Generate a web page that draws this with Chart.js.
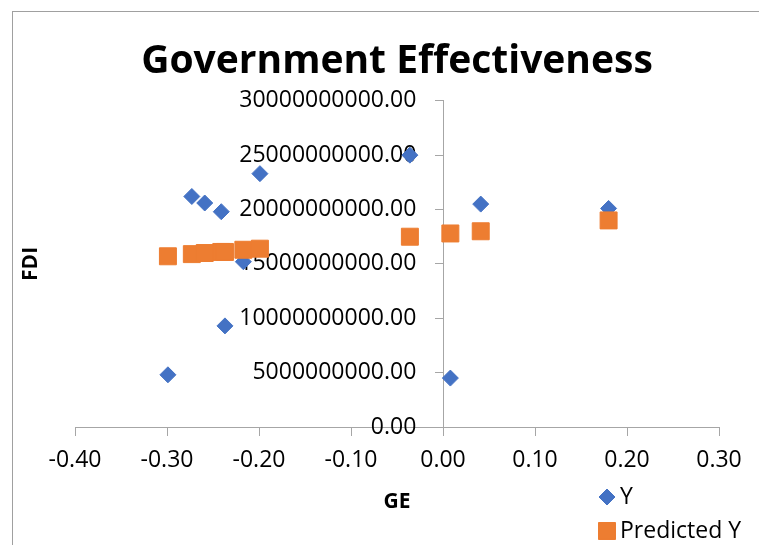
<!DOCTYPE html>
<html>
<head>
<meta charset="utf-8">
<title>Government Effectiveness</title>
<script src="https://cdn.jsdelivr.net/npm/chart.js@4.4.1/dist/chart.umd.min.js"></script>
<style>
  html, body { margin: 0; padding: 0; background: #fff; overflow: hidden; }
  .chart-wrap { position: relative; width: 759px; height: 545px; }
  .chart-frame {
    position: absolute; left: 12px; top: 11px; width: 800px; height: 600px;
    border: 1px solid #a0a0a0; pointer-events: none;
  }
</style>
</head>
<body>
<div class="chart-wrap">
  <div class="chart-frame"></div>
  <canvas id="chartGe"></canvas>
</div>
<script>
// GE score per observation, actual FDI and the regression's fitted FDI
const geValues = [-0.299, -0.273, -0.259, -0.241, -0.237, -0.217, -0.199, -0.036, 0.008, 0.041, 0.180];
const fdiValues = [4.8e9, 21.2e9, 20.6e9, 19.8e9, 9.3e9, 15.2e9, 23.3e9, 25.0e9, 4.5e9, 20.5e9, 20.1e9];
const predictedValues = [15.7e9, 15.9e9, 16.0e9, 16.1e9, 16.1e9, 16.3e9, 16.4e9, 17.5e9, 17.8e9, 18.0e9, 19.0e9];

const X_TICKS = [-0.4, -0.3, -0.2, -0.1, 0, 0.1, 0.2, 0.3];
const Y_TICKS = [0, 5e9, 10e9, 15e9, 20e9, 25e9, 30e9];

// the FDI labels sit a little left of the vertical axis (in GE units)
const Y_LABEL_AT = -0.029;

const AXIS_COLOR = '#a6a6a6';
const BLUE = '#4472C4';
const ORANGE = '#ED7D31';

Chart.defaults.font.family = "'Open Sans', sans-serif";
Chart.defaults.color = '#000';

function toPoints(xs, ys) {
  return xs.map((x, i) => ({ x, y: ys[i] }));
}

function setYTicks(scale) {
  scale.ticks = Y_TICKS.map((value) => ({ value }));
}

// legend stacked under the plot on the right, drawn with the datasets' own markers
const stackedLegend = {
  id: 'stackedLegend',
  afterDraw(chart) {
    const { ctx } = chart;
    const rowsY = [497, 531];
    const markerX = 607;
    chart.data.datasets.forEach((ds, i) => {
      ctx.save();
      ctx.fillStyle = ds.backgroundColor;
      ctx.strokeStyle = ds.borderColor;
      ctx.lineWidth = 1;
      Chart.helpers.drawPoint(ctx, {
        pointStyle: ds.pointStyle,
        radius: ds.pointRadius,
        rotation: 0,
        borderWidth: 1
      }, markerX, rowsY[i]);
      ctx.fillStyle = '#000';
      ctx.font = "23px 'Open Sans', sans-serif";
      ctx.textBaseline = 'middle';
      ctx.fillText(ds.label, markerX + 13, rowsY[i]);
      ctx.restore();
    });
  }
};

new Chart(document.getElementById('chartGe'), {
  type: 'scatter',
  data: {
    datasets: [
      {
        label: 'Y',
        data: toPoints(geValues, fdiValues),
        pointStyle: 'rectRot',
        pointRadius: 8,
        pointHoverRadius: 8,
        backgroundColor: BLUE,
        borderColor: BLUE,
        borderWidth: 1,
        order: 2
      },
      {
        label: 'Predicted Y',
        data: toPoints(geValues, predictedValues),
        pointStyle: 'rect',
        pointRadius: 12,
        pointHoverRadius: 12,
        backgroundColor: ORANGE,
        borderColor: ORANGE,
        borderWidth: 1,
        order: 1
      }
    ]
  },
  options: {
    responsive: true,
    maintainAspectRatio: false,
    animation: false,
    layout: { padding: { left: 0, right: 40, top: 0, bottom: 118 } },
    plugins: {
      legend: { display: false },
      tooltip: { enabled: false },
      title: {
        display: true,
        fullSize: false,
        text: 'Government Effectiveness',
        color: '#000',
        font: { size: 39, weight: 'bold' },
        padding: { top: 38, bottom: 16 }
      }
    },
    scales: {
      x: {
        type: 'linear',
        position: { y: 0 },
        min: -0.4,
        max: 0.3,
        afterBuildTicks: (scale) => {
          scale.ticks = X_TICKS.map((value) => ({ value }));
        },
        afterFit: (scale) => {
          scale.height = 118;
        },
        grid: { drawOnChartArea: false, drawTicks: true, tickLength: 8, color: AXIS_COLOR },
        border: { display: true, color: AXIS_COLOR, width: 1 },
        ticks: {
          font: { size: 23 },
          padding: 12,
          maxRotation: 0,
          autoSkip: false,
          callback: (value) => Number(value).toFixed(2)
        },
        title: {
          display: true,
          text: 'GE',
          font: { size: 21, weight: 'bold' },
          padding: { top: 0, bottom: 30 }
        }
      },
      // axis line and tick marks at GE = 0
      y: {
        type: 'linear',
        position: { x: 0 },
        min: 0,
        max: 30e9,
        afterBuildTicks: setYTicks,
        grid: { drawOnChartArea: false, drawTicks: true, tickLength: 8, color: AXIS_COLOR },
        border: { display: true, color: AXIS_COLOR, width: 1 },
        ticks: { display: false }
      },
      // FDI tick labels
      yLabels: {
        type: 'linear',
        axis: 'y',
        position: { x: Y_LABEL_AT },
        min: 0,
        max: 30e9,
        afterBuildTicks: setYTicks,
        grid: { display: false },
        border: { display: false },
        ticks: {
          font: { size: 23 },
          callback: (value) => Number(value).toFixed(2)
        }
      },
      yTitle: {
        type: 'linear',
        axis: 'y',
        position: 'left',
        ticks: { display: false },
        grid: { display: false },
        border: { display: false },
        afterFit: (scale) => {
          scale.width = 75;
        },
        title: {
          display: true,
          text: 'FDI',
          font: { size: 21, weight: 'bold' },
          padding: { top: 18, bottom: 0 }
        }
      }
    }
  },
  plugins: [stackedLegend]
});
</script>
</body>
</html>
